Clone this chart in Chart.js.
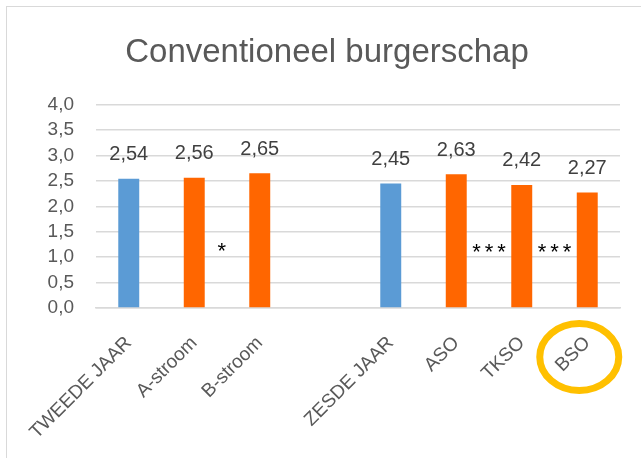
<!DOCTYPE html>
<html>
<head>
<meta charset="utf-8">
<script src="https://cdn.jsdelivr.net/npm/chart.js@4"></script>
<style>
  html, body { margin: 0; padding: 0; background: #fff; }
  canvas { display: block; }
</style>
</head>
<body>
<canvas id="myChart" width="641" height="458"></canvas>
<script>
const ctx = document.getElementById('myChart').getContext('2d');

// categories (empty slot separates the two groups)
const labels = ['TWEEDE JAAR', 'A-stroom', 'B-stroom', '', 'ZESDE JAAR', 'ASO', 'TKSO', 'BSO'];
const values = [2.54, 2.56, 2.65, null, 2.45, 2.63, 2.42, 2.27];
const barColors = ['#5B9BD5', '#FF6600', '#FF6600', '#FF6600', '#5B9BD5', '#FF6600', '#FF6600', '#FF6600'];

// significance markers between bars
const sigText = ['*', '***', '***'];
const sigAt = [1.42, 5.5, 6.5];
const sigLevel = [1.22, 1.2, 1.2];

const highlighted = 'BSO';

const FONT = "'Liberation Sans', Arial, sans-serif";
const GREY = '#595959';

const fmt = v => v.toFixed(2).replace('.', ',');

// value labels, stars, highlight ring and frame
const extras = {
  id: 'extras',
  afterDraw(chart) {
    const c = chart.ctx;
    const xs = chart.scales.x, ys = chart.scales.y;
    c.save();

    // frame
    c.strokeStyle = '#D9D9D9';
    c.lineWidth = 1;
    c.strokeRect(6.5, 6.5, 700, 500);

    // values above bars
    c.fillStyle = '#404040';
    c.font = '20px ' + FONT;
    c.textAlign = 'center';
    c.textBaseline = 'middle';
    chart.getDatasetMeta(0).data.forEach((bar, i) => {
      if (values[i] == null) return;
      c.fillText(fmt(values[i]), bar.x, bar.y - 24);
    });

    // stars
    c.fillStyle = '#000';
    c.font = '22px ' + FONT;
    c.letterSpacing = '4px';
    sigText.forEach((t, i) => {
      c.fillText(t, xs.getPixelForValue(sigAt[i]) + 2, ys.getPixelForValue(sigLevel[i]) + 6);
    });
    c.letterSpacing = '0px';

    // ring round the highlighted label
    const k = labels.indexOf(highlighted);
    c.strokeStyle = '#FFC000';
    c.lineWidth = 7;
    c.beginPath();
    c.ellipse(xs.getPixelForValue(k) - 8, chart.chartArea.bottom + 49, 39.5, 33.5, 0, 0, Math.PI * 2);
    c.stroke();

    c.restore();
  }
};

new Chart(ctx, {
  type: 'bar',
  data: {
    labels: labels,
    datasets: [{
      data: values,
      backgroundColor: barColors,
      borderWidth: 0,
      barPercentage: 0.4,
      categoryPercentage: 0.8
    }]
  },
  options: {
    responsive: false,
    animation: false,
    layout: { padding: { left: 13, right: 0, top: 8, bottom: 0 } },
    plugins: {
      legend: { display: false },
      tooltip: { enabled: false },
      title: {
        display: true,
        text: 'Conventioneel burgerschap',
        color: GREY,
        font: { family: FONT, size: 33, weight: 'normal' },
        padding: { top: 25, bottom: 32 }
      }
    },
    scales: {
      y: {
        min: 0,
        max: 4,
        ticks: {
          stepSize: 0.5,
          autoSkip: false,
          color: GREY,
          font: { family: FONT, size: 19 },
          padding: 22,
          callback: v => v.toFixed(1).replace('.', ',')
        },
        grid: { color: '#D9D9D9', lineWidth: 1.5, drawTicks: false },
        border: { display: false },
        afterFit(scale) { scale.width = 83; }
      },
      // empty right-hand strip so the plot stops short of the edge
      yRight: {
        position: 'right',
        min: 0,
        max: 4,
        ticks: { display: false },
        grid: { display: false, drawTicks: false },
        border: { display: false },
        afterFit(scale) { scale.width = 21; }
      },
      x: {
        ticks: {
          color: GREY,
          font: { family: FONT, size: 19 },
          minRotation: 45,
          maxRotation: 45,
          padding: 16
        },
        grid: { display: false },
        border: { color: '#D9D9D9', width: 1.5 },
        afterFit(scale) { scale.height = 150; }
      }
    }
  },
  plugins: [extras]
});
</script>
</body>
</html>
